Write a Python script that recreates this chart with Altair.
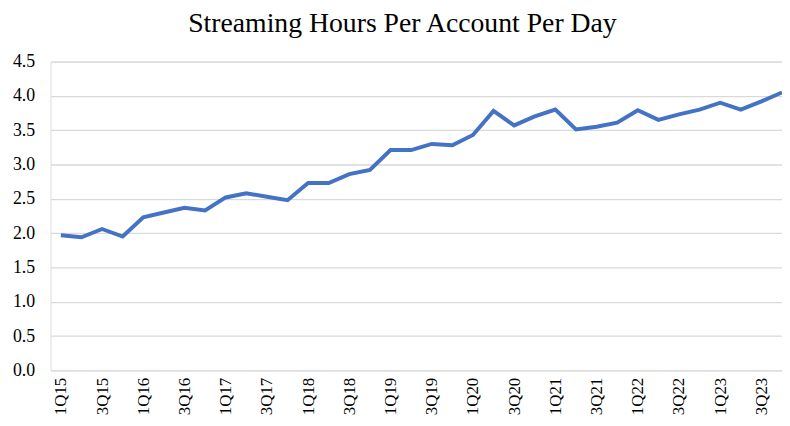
import altair as alt
import pandas as pd

quarters = [
    "1Q15", "2Q15", "3Q15", "4Q15",
    "1Q16", "2Q16", "3Q16", "4Q16",
    "1Q17", "2Q17", "3Q17", "4Q17",
    "1Q18", "2Q18", "3Q18", "4Q18",
    "1Q19", "2Q19", "3Q19", "4Q19",
    "1Q20", "2Q20", "3Q20", "4Q20",
    "1Q21", "2Q21", "3Q21", "4Q21",
    "1Q22", "2Q22", "3Q22", "4Q22",
    "1Q23", "2Q23", "3Q23", "4Q23",
]
hours = [
    1.97, 1.94, 2.06, 1.95,
    2.23, 2.30, 2.37, 2.33,
    2.52, 2.58, 2.53, 2.48,
    2.73, 2.73, 2.86, 2.92,
    3.21, 3.21, 3.30, 3.28,
    3.43, 3.78, 3.57, 3.70,
    3.80, 3.51, 3.55, 3.61,
    3.79, 3.65, 3.73, 3.80,
    3.90, 3.80, 3.92, 4.05,
]
y_ticks = [0.0, 0.5, 1.0, 1.5, 2.0, 2.5, 3.0, 3.5, 4.0, 4.5]

df = pd.DataFrame({"quarter": quarters, "hours": hours, "idx": list(range(len(quarters)))})

label_array = "[" + ",".join("'" + q + "'" for q in quarters) + "]"
FONT = "Liberation Serif"

chart = (
    alt.Chart(df)
    .mark_line(color="#4472C4", strokeWidth=4, strokeJoin="miter", strokeCap="butt")
    .encode(
        x=alt.X(
            "idx:Q",
            scale=alt.Scale(domain=[-0.5, 35], nice=False, zero=False),
            axis=alt.Axis(
                values=list(range(0, 36, 2)),
                labelExpr=label_array + "[datum.value]",
                labelAngle=270,
                labelFont=FONT,
                labelFontSize=17,
                labelColor="#000000",
                labelPadding=7,
                ticks=False,
                domain=False,
                grid=False,
                title=None,
                labelOverlap=False,
                labelFlush=False,
            ),
        ),
        y=alt.Y(
            "hours:Q",
            scale=alt.Scale(domain=[0, 4.5], nice=False),
            axis=alt.Axis(
                values=y_ticks,
                format=".1f",
                labelFont=FONT,
                labelFontSize=18,
                labelColor="#000000",
                labelPadding=16,
                ticks=False,
                domain=False,
                grid=True,
                gridColor="#d9d9d9",
                gridWidth=1.3,
                title=None,
            ),
        ),
    )
    .properties(
        width=739,
        height=312,
        autosize=alt.AutoSizeParams(type="none"),
        padding={"left": 43, "top": 52, "right": 0, "bottom": 46},
        title=alt.TitleParams(
            "Streaming Hours Per Account Per Day",
            font=FONT,
            fontSize=28,
            fontWeight="normal",
            color="#000000",
            anchor="middle",
            dx=-14,
            baseline="alphabetic",
            offset=-7,
        ),
    )
    .configure_view(stroke=None)
    .configure(background="white")
)

chart.save("out.html", embed_options={"renderer": "svg", "actions": False})
